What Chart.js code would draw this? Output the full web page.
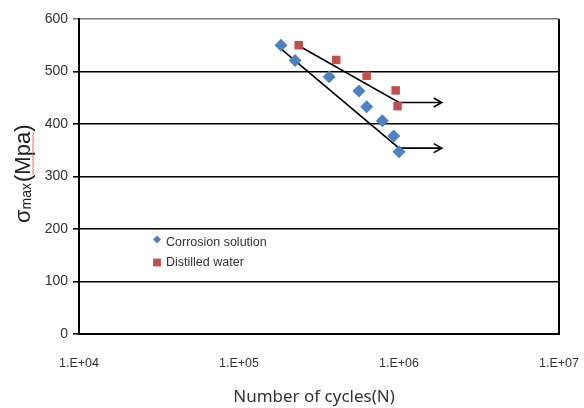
<!DOCTYPE html>
<html>
<head>
<meta charset="utf-8">
<script src="https://cdn.jsdelivr.net/npm/chart.js@4"></script>
<style>
  body { margin: 0; background: #fff; }
  #wrap { width: 584px; height: 408px; }
</style>
</head>
<body>
<div id="wrap"><canvas id="sn" width="584" height="408"></canvas></div>
<script>
// S-N data
const corrosionN = [1.83e5, 2.24e5, 3.66e5, 5.62e5, 6.28e5, 7.87e5, 9.27e5, 1.0e6];
const corrosionS = [550, 521, 490, 463, 433, 406, 377, 347];
const waterN = [2.36e5, 4.05e5, 6.28e5, 9.53e5, 9.8e5];
const waterS = [550, 522, 492, 464, 434];

// trend lines with run-out arrows
const upperN = [2.36e5, 1.0e6, 1.85e6];
const upperS = [549, 441, 441];
const lowerN = [1.83e5, 1.0e6, 1.85e6];
const lowerS = [543, 354, 354];

const xTicks = [1e4, 1e5, 1e6, 1e7];
const xTickLabels = ['1.E+04', '1.E+05', '1.E+06', '1.E+07'];

const pts = (xs, ys) => xs.map((x, i) => ({ x: x, y: ys[i] }));

// arrow heads, legend and axis titles
const extras = {
  id: 'extras',
  afterDatasetsDraw(chart) {
    const ctx = chart.ctx;
    // open arrow heads on the run-out lines
    [2, 3].forEach(i => {
      const els = chart.getDatasetMeta(i).data;
      const p = els[els.length - 1];
      ctx.save();
      ctx.strokeStyle = '#000';
      ctx.lineWidth = 1.6;
      ctx.beginPath();
      ctx.moveTo(p.x - 8, p.y - 4.5);
      ctx.lineTo(p.x, p.y);
      ctx.lineTo(p.x - 8, p.y + 4.5);
      ctx.stroke();
      ctx.restore();
    });

    // legend inside the plot
    const rows = [
      { ds: 0, mx: 157, my: 239.5, ty: 242.5, r: 4 },
      { ds: 1, mx: 157, my: 262.5, ty: 262.5, r: 5.5 }
    ];
    rows.forEach(row => {
      const d = chart.data.datasets[row.ds];
      ctx.save();
      ctx.fillStyle = d.backgroundColor;
      ctx.strokeStyle = d.backgroundColor;
      Chart.helpers.drawPoint(ctx, { pointStyle: d.pointStyle, radius: row.r, rotation: 0, borderWidth: 0 }, row.mx, row.my);
      ctx.fillStyle = '#333';
      ctx.font = '12.5px "Liberation Sans", Arial, sans-serif';
      ctx.textBaseline = 'middle';
      ctx.fillText(d.label, 166, row.ty);
      ctx.restore();
    });

    // x title
    ctx.save();
    ctx.fillStyle = '#333';
    ctx.font = '17px "Noto Sans", sans-serif';
    ctx.textAlign = 'center';
    ctx.textBaseline = 'middle';
    ctx.fillText('Number of cycles(N)', 314, 397);
    ctx.restore();

    // y title with subscript
    ctx.save();
    ctx.translate(24, 223);
    ctx.rotate(-Math.PI / 2);
    ctx.fillStyle = '#222';
    ctx.textBaseline = 'middle';
    ctx.font = '22px "Liberation Sans", Arial, sans-serif';
    ctx.fillText('σ', 0, 0);
    let off = ctx.measureText('σ').width;
    ctx.font = '14px "Liberation Sans", Arial, sans-serif';
    ctx.fillText('max', off, 3.5);
    off += ctx.measureText('max').width + 1;
    ctx.font = '22px "Liberation Sans", Arial, sans-serif';
    ctx.fillText('(Mpa)', off, 0);
    const m0 = off + ctx.measureText('(').width;
    const m1 = off + ctx.measureText('(Mpa').width;
    ctx.strokeStyle = 'rgba(235,70,70,0.85)';
    ctx.lineWidth = 0.8;
    ctx.beginPath();
    for (let s = m0, k = 0; s <= m1; s += 1.5, k++) {
      const yy = 9 + (k % 2 ? 1 : -1);
      if (k === 0) ctx.moveTo(s, yy); else ctx.lineTo(s, yy);
    }
    ctx.stroke();
    ctx.restore();
  }
};

new Chart(document.getElementById('sn'), {
  type: 'scatter',
  data: {
    datasets: [
      {
        label: 'Corrosion solution',
        data: pts(corrosionN, corrosionS),
        pointStyle: 'rectRot',
        pointRadius: 6.5,
        backgroundColor: '#4F81BD',
        borderColor: '#4F81BD',
        borderWidth: 0
      },
      {
        label: 'Distilled water',
        data: pts(waterN, waterS),
        pointStyle: 'rect',
        pointRadius: 6,
        backgroundColor: '#C0504D',
        borderColor: '#C0504D',
        borderWidth: 0
      },
      {
        label: 'upper',
        type: 'line',
        data: pts(upperN, upperS),
        borderColor: '#000',
        borderWidth: 1.6,
        pointRadius: 0,
        fill: false
      },
      {
        label: 'lower',
        type: 'line',
        data: pts(lowerN, lowerS),
        borderColor: '#000',
        borderWidth: 1.6,
        pointRadius: 0,
        fill: false
      }
    ]
  },
  options: {
    responsive: false,
    animation: false,
    layout: { padding: { top: 19, right: 25, left: 0, bottom: 0 } },
    plugins: {
      legend: { display: false },
      tooltip: { enabled: false }
    },
    scales: {
      x: {
        type: 'logarithmic',
        min: 1e4,
        max: 1e7,
        afterBuildTicks: s => { s.ticks = xTicks.map(v => ({ value: v, major: true })); },
        afterFit: s => { s.height = 74; s.paddingLeft = 0; s.paddingRight = 0; },
        ticks: {
          callback: v => xTickLabels[xTicks.indexOf(v)],
          color: '#333',
          font: { size: 12.5, family: '"Liberation Sans", Arial, sans-serif' },
          padding: 22,
          maxRotation: 0,
          autoSkip: false
        },
        grid: {
          drawTicks: false,
          color: c => c.tick && c.tick.value === 1e7 ? '#000' : 'rgba(0,0,0,0)',
          lineWidth: 2
        },
        border: { display: true, color: '#000', width: 2 }
      },
      y: {
        min: 0,
        max: 600,
        afterFit: s => { s.width = 79; },
        ticks: {
          stepSize: 100,
          color: '#333',
          font: { size: 14, family: '"Liberation Sans", Arial, sans-serif' },
          padding: 5
        },
        grid: {
          color: c => c.tick && c.tick.value === 600 ? '#7a7a7a' : '#000',
          lineWidth: 1.6,
          tickLength: 6
        },
        border: { display: true, color: '#000', width: 2 }
      }
    }
  },
  plugins: [extras]
});
</script>
</body>
</html>
